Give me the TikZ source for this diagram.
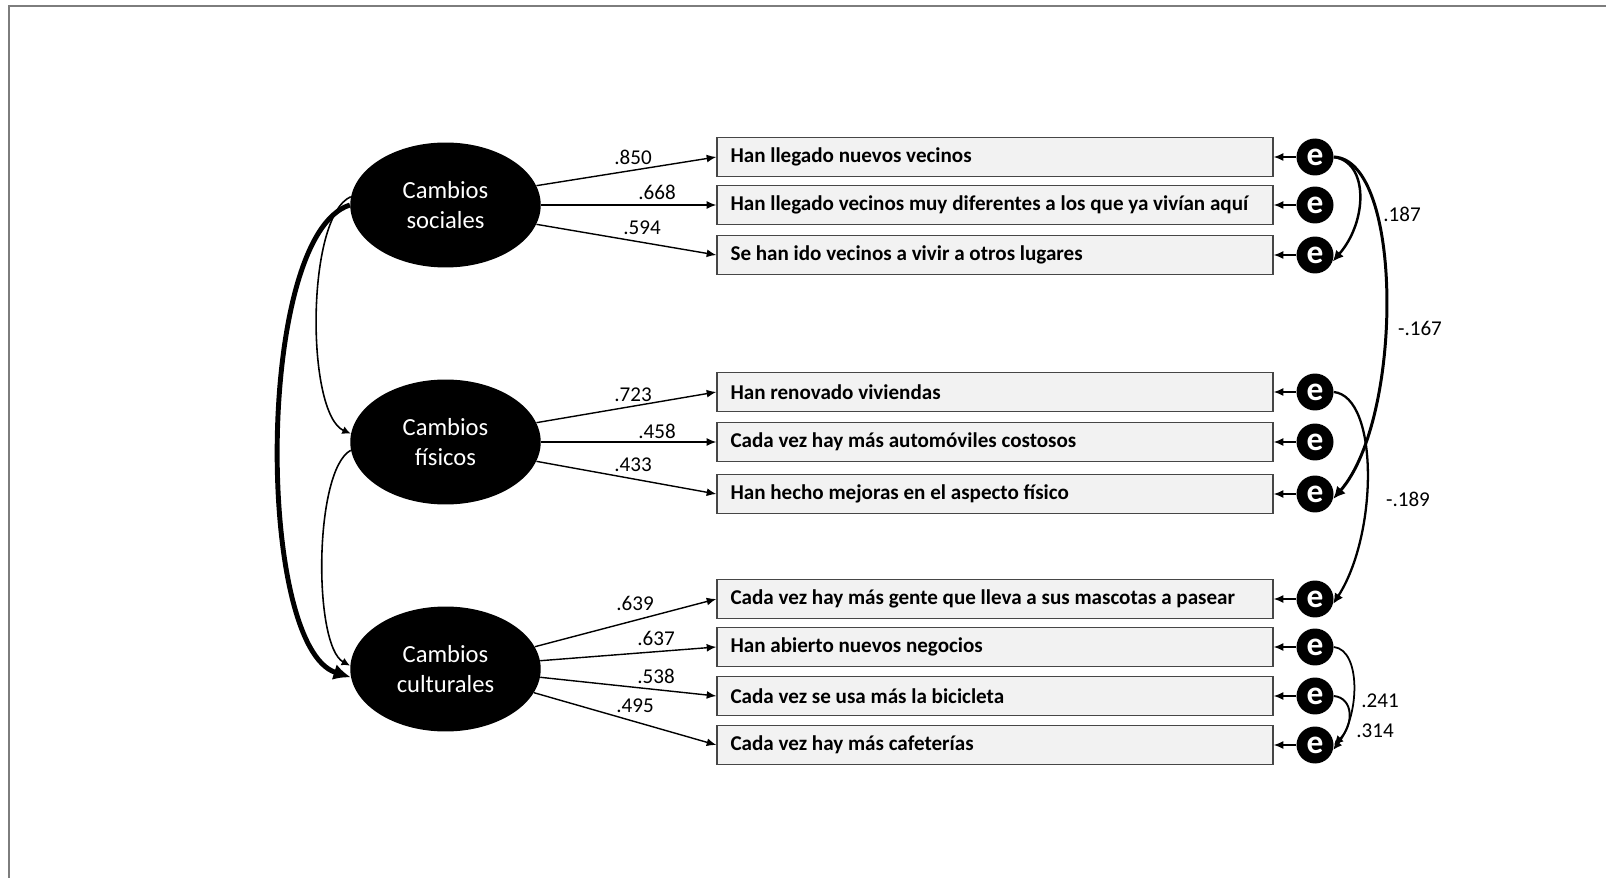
\documentclass[tikz,border=0pt]{standalone}
\usepackage{fontspec}
\setmainfont{Carlito}
\usetikzlibrary{arrows.meta,shapes.geometric}
\definecolor{itemfill}{RGB}{242,242,242}
\definecolor{itemedge}{RGB}{70,70,70}
\definecolor{framegray}{RGB}{125,125,125}

\begin{document}
\begin{tikzpicture}[x=.02cm,y=-.02cm,>={Latex[length=5.5pt,width=4.5pt]},
 every node/.style={font=\fontsize{12}{14}\selectfont},
 factor/.style={ellipse,fill=black,text=white,minimum width=3.81cm,minimum height=2.5cm,inner sep=0pt,align=center,font=\fontsize{14}{17.5}\selectfont},
 item/.style={draw=itemedge,fill=itemfill,line width=.8pt,minimum width=11.12cm,minimum height=.78cm,inner sep=0pt,font=\bfseries\fontsize{12}{14}\selectfont},
 errc/.style={circle,fill=black,text=white,minimum size=.74cm,inner sep=0pt,font=\bfseries\fontsize{19}{19}\selectfont},
 load/.style={->,line width=.8pt},
 cov/.style={line width=#1,-{Latex[length=2.5pt 2.6,width=2.5pt 2.4]}}]
\useasboundingbox (0,0) rectangle (1606,878);
\draw[framegray,line width=1pt] (9,878)--(9,6)--(1606,6);
\node[factor] (soc) at (445.5,205) {Cambios\\sociales};
\node[factor] (fis) at (445.5,442) {Cambios\\físicos};
\node[factor] (cul) at (445.5,669) {Cambios\\culturales};
\foreach \t/\y [count=\i] in {Han llegado nuevos vecinos/157,Han llegado vecinos muy diferentes a los que ya vivían aquí/205,Se han ido vecinos a vivir a otros lugares/255,Han renovado viviendas/392,Cada vez hay más automóviles costosos/442,Han hecho mejoras en el aspecto físico/494,Cada vez hay más gente que lleva a sus mascotas a pasear/599,Han abierto nuevos negocios/647,Cada vez se usa más la bicicleta/696,Cada vez hay más cafeterías/745}{
 \node[item] (b\i) at (995,\y) {\makebox[10.58cm][l]{\t}};
 \node[errc] (e\i) at (1315,\y) {e};
 \draw[load] (e\i) -- (b\i);}
\foreach \f/\a/\b/\v/\x/\y [count=\j] in {soc/12/1/.850/633/157,soc/0/2/.668/657/192,soc/-12/3/.594/642/228,fis/12/4/.723/633/395,fis/0/5/.458/657/431,fis/-12/6/.433/633/465,cul/14/7/.639/635/603,cul/5/8/.637/656/638,cul/-5/9/.538/656/676,cul/-15/10/.495/635/706}{
 \draw[load] (\f.\a) -- (b\b.west);
 \node (w\j) at (\x,\y) {\v};}
% factor covariances
\draw[cov=.9pt] (soc.175) .. controls +(-45,20) and +(-45,-20) .. (fis.175);
\draw[cov=.9pt] (fis.185) .. controls +(-37,20) and +(-37,-20) .. (cul.178);
\draw[cov=2.8pt] (soc.180) .. controls +(-95,30) and +(-95,-30) .. (cul.185);
% error covariances
\draw[cov=1.4pt] (e1.east) .. controls +(35,5) and +(35,-40) .. (e3.-20);
\draw[cov=1.7pt] (e1.east) .. controls +(70,3) and +(70,-80) .. (e6.-15);
\draw[cov=1.3pt] (e4.east) .. controls +(45,5) and +(45,-70) .. (e7.-15);
\draw[cov=1pt] (e8.east) .. controls +(27,3) and +(27,-35) .. (e10.-15);
\draw[cov=1.1pt] (e9.east) .. controls +(20,2) and +(20,-20) .. (e10.east);
\node (r1) at (1402,214) {.187};
\node (r2) at (1420,328) {-.167};
\node (r3) at (1408,499) {-.189};
\node (r4) at (1380,701) {.241};
\node (r5) at (1375,731) {.314};
\end{tikzpicture}
\end{document}
